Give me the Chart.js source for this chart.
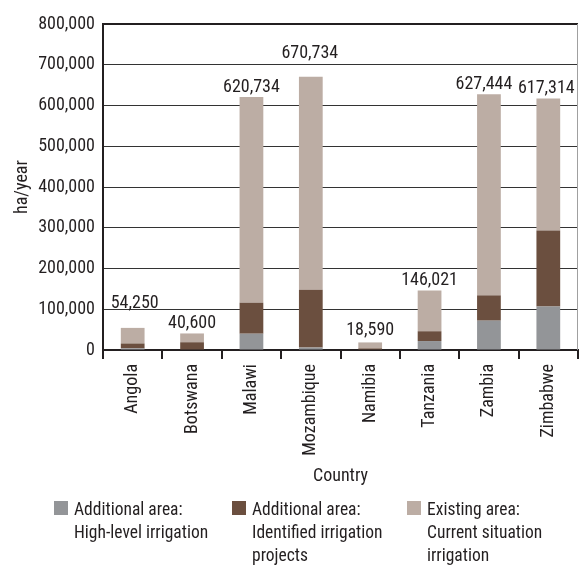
<!DOCTYPE html>
<html>
<head>
<meta charset="utf-8">
<title>Irrigation area by country</title>
<script src="https://cdn.jsdelivr.net/npm/chart.js@4.4.1/dist/chart.umd.min.js"></script>
<style>
  html, body { margin: 0; padding: 0; background: #fff; }
  #wrap { position: relative; width: 579px; height: 565px; overflow: hidden; }
  #chartBox { position: absolute; left: 0; top: 0; width: 579px; height: 500px; }
  #legend {
    position: absolute; left: 0; top: 498px; width: 579px; height: 67px;
    font-family: 'Liberation Sans Narrow', 'Roboto Condensed', 'DejaVu Sans Condensed', sans-serif;
    font-size: 17.5px; line-height: 23px; color: #231f20;
  }
  .lg-item { position: absolute; top: 0; display: flex; }
  .lg-box { width: 14px; height: 14px; margin-top: 3px; margin-right: 6px; flex: none; }
  .lg-text { white-space: pre-line; }
</style>
</head>
<body>
<div id="wrap">
  <div id="chartBox"><canvas id="areaChart"></canvas></div>
  <div id="legend"></div>
</div>
<script>
  // countries along the x axis
  var countries = ['Angola', 'Botswana', 'Malawi', 'Mozambique', 'Namibia', 'Tanzania', 'Zambia', 'Zimbabwe'];

  // ha/year, stacked bottom to top
  var highLevel  = [4000, 0, 40000, 6000, 0, 22000, 72000, 107000];
  var identified = [12000, 19000, 76000, 142000, 4000, 24000, 62000, 186000];
  var existing   = [38250, 21600, 504734, 522734, 14590, 100021, 493444, 324314];

  var seriesNames = [
    'Additional area:\nHigh-level irrigation',
    'Additional area:\nIdentified irrigation\nprojects',
    'Existing area:\nCurrent situation\nirrigation'
  ];

  var yTicks = [0, 100000, 200000, 300000, 400000, 500000, 600000, 700000, 800000];

  var FONT = "'Liberation Sans Narrow', 'Roboto Condensed', 'DejaVu Sans Condensed', sans-serif";
  var FONT_SIZE = 18;
  var INK = '#231f20';
  var colors = ['#939598', '#6b4f3f', '#bcada4'];
  var legendLeft = [54, 232, 407];

  function fmt(v) { return Number(v).toLocaleString('en-US'); }

  // totals printed above each stacked column
  var totalsLabels = {
    id: 'totalsLabels',
    afterDatasetsDraw: function (chart, args, opts) {
      var ctx = chart.ctx;
      var sets = chart.data.datasets;
      var top = chart.getDatasetMeta(sets.length - 1);
      ctx.save();
      ctx.font = FONT_SIZE + 'px ' + FONT;
      ctx.fillStyle = INK;
      ctx.textAlign = 'center';
      ctx.textBaseline = 'alphabetic';
      top.data.forEach(function (bar, i) {
        var total = sets.reduce(function (s, ds) { return s + ds.data[i]; }, 0);
        var n = opts.nudge[chart.data.labels[i]] || [0, 0];
        ctx.fillText(fmt(total), bar.x + n[0], bar.y - 5 + n[1]);
      });
      ctx.restore();
    }
  };

  // thin frame line on the right side of the plot
  var rightEdge = {
    id: 'rightEdge',
    afterDraw: function (chart) {
      var a = chart.chartArea, ctx = chart.ctx;
      ctx.save();
      ctx.strokeStyle = '#a0a0a0';
      ctx.lineWidth = 1;
      ctx.beginPath();
      ctx.moveTo(a.right - 0.5, a.top);
      ctx.lineTo(a.right - 0.5, a.bottom);
      ctx.stroke();
      ctx.restore();
    }
  };

  function buildLegend(chart) {
    var box = document.getElementById('legend');
    box.innerHTML = chart.data.datasets.map(function (ds, i) {
      return '<div class="lg-item" style="left:' + legendLeft[i] + 'px">' +
        '<span class="lg-box" style="background:' + ds.backgroundColor + '"></span>' +
        '<span class="lg-text">' + ds.label + '</span></div>';
    }).join('');
  }

  var axisFont = { family: FONT, size: FONT_SIZE };

  var chart = new Chart(document.getElementById('areaChart').getContext('2d'), {
    type: 'bar',
    data: {
      labels: countries,
      datasets: [
        { label: seriesNames[0], data: highLevel,  backgroundColor: colors[0] },
        { label: seriesNames[1], data: identified, backgroundColor: colors[1] },
        { label: seriesNames[2], data: existing,   backgroundColor: colors[2] }
      ]
    },
    options: {
      responsive: true, maintainAspectRatio: false,
      animation: false,
      datasets: { bar: { categoryPercentage: 1, barPercentage: 0.4 } },
      layout: { padding: { top: 24, right: 1, left: 0, bottom: 0 } },
      plugins: {
        legend: { display: false },
        tooltip: { enabled: false },
        totalsLabels: {
          nudge: { Angola: [2, -15], Mozambique: [-1, -14], Namibia: [0, -2], Zambia: [-5, 0], Zimbabwe: [-2, 0] }
        }
      },
      scales: {
        x: {
          stacked: true,
          afterFit: function (s) { s.height = 150; },
          border: { display: true, color: INK, width: 2 },
          grid: { drawOnChartArea: false, drawTicks: true, tickLength: 9, color: INK, lineWidth: 2 },
          ticks: { color: INK, font: axisFont, minRotation: 90, maxRotation: 90, padding: 5, autoSkip: false },
          title: { display: true, text: 'Country', color: INK, font: axisFont, padding: { top: 0, bottom: 13 } }
        },
        y: {
          stacked: true,
          min: 0, max: 800000,
          afterFit: function (s) { s.width = 103; },
          afterBuildTicks: function (s) { s.ticks = yTicks.map(function (v) { return { value: v }; }); },
          border: { display: true, color: INK, width: 2 },
          grid: {
            drawTicks: false,
            color: function (c) { return c.tick && c.tick.value === 800000 ? INK : '#333333'; },
            lineWidth: function (c) { return c.tick && c.tick.value === 800000 ? 2 : 1; }
          },
          ticks: { color: INK, font: axisFont, padding: 8, callback: function (v) { return fmt(v); } },
          title: { display: true, text: 'ha/year', color: INK, font: axisFont, padding: { top: 12, bottom: 0 } }
        }
      }
    },
    plugins: [totalsLabels, rightEdge]
  });

  buildLegend(chart);
</script>
</body>
</html>
